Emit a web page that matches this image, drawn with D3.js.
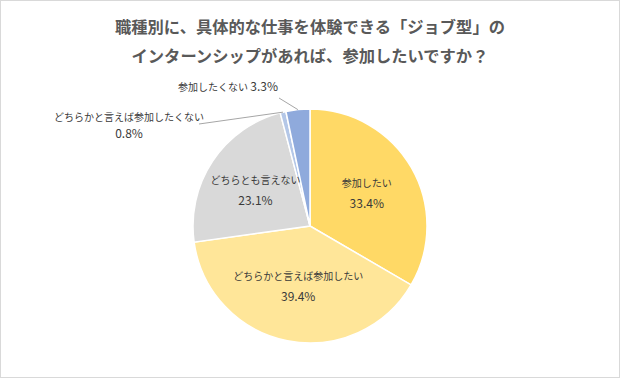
<!DOCTYPE html>
<html><head><meta charset="utf-8">
<script src="https://cdn.jsdelivr.net/npm/d3@7"></script>
<style>
html,body{margin:0;padding:0;background:#fff;}
svg{display:block;font-family:"Noto Sans CJK JP","Noto Sans",sans-serif;}
</style></head>
<body>
<svg id="c" width="620" height="378"></svg>
<script>
const titleLines = ["職種別に、具体的な仕事を体験できる「ジョブ型」の", "インターンシップがあれば、参加したいですか？"];
const categories = ["参加したい", "どちらかと言えば参加したい", "どちらとも言えない", "どちらかと言えば参加したくない", "参加したくない"];
const values = [33.4, 39.4, 23.1, 0.8, 3.3];
const colors = ["#FFD966", "#FFE699", "#D9D9D9", "#B4C7E7", "#8FAADC"];

const W = 620, H = 378;
const cx = 310, cy = 226, R = 117;
const svg = d3.select("#c");

svg.append("rect").attr("x",0.5).attr("y",0.5).attr("width",W-1).attr("height",H-1)
  .attr("fill","#fff").attr("stroke","#d9d9d9").attr("stroke-width",1);

svg.append("g").selectAll("text").data(titleLines).join("text")
  .attr("x", cx).attr("y",(d,i)=>33+i*29)
  .attr("text-anchor","middle").attr("font-size","16.3px").attr("font-weight","bold")
  .attr("fill","#595959").text(d=>d);

const data = categories.map((c,i)=>({cat:c, v:values[i], col:colors[i]}));
const pie = d3.pie().value(d=>d.v).sort(null);
const arcs = pie(data);
const arc = d3.arc().innerRadius(0).outerRadius(R);
const g = svg.append("g").attr("transform",`translate(${cx},${cy})`);
g.selectAll("path").data(arcs).join("path")
  .attr("d",arc).attr("fill",d=>d.data.col).attr("stroke","#fff").attr("stroke-width",1.5);

const lab = "#3a3a3a";
const fs = "10px";
const nfs = "12px";
// inner labels (first three slices)
const inR = [0.56, 0.52, 0.56];
arcs.slice(0,3).forEach((a,i)=>{
  const m = (a.startAngle+a.endAngle)/2;
  const r = R*inR[i];
  const x = r*Math.sin(m), y = -r*Math.cos(m);
  const t = g.append("text").attr("text-anchor","middle").attr("fill",lab).attr("font-size",fs);
  t.append("tspan").attr("x",x).attr("y",y-6).text(a.data.cat);
  t.append("tspan").attr("x",x).attr("y",y+15).attr("font-size",nfs).text(a.data.v.toFixed(1)+"%");
});

// outer labels
function edge(a){const m=(a.startAngle+a.endAngle)/2;return [R*Math.sin(m), -R*Math.cos(m)];}
// 0.8%
{
  const a = arcs[3]; const [ex,ey] = edge(a);
  g.append("line").attr("x1",199-cx).attr("y1",124-cy).attr("x2",ex).attr("y2",ey)
    .attr("stroke","#a6a6a6").attr("stroke-width",1);
  const t = g.append("text").attr("text-anchor","middle").attr("fill",lab).attr("font-size",fs);
  t.append("tspan").attr("x",129-cx).attr("y",121-cy).text(a.data.cat);
  t.append("tspan").attr("x",129-cx).attr("y",138-cy).attr("font-size",nfs).text(a.data.v.toFixed(1)+"%");
}
// 3.3%
{
  const a = arcs[4]; const [ex,ey] = edge(a);
  g.append("line").attr("x1",279-cx).attr("y1",98-cy).attr("x2",ex).attr("y2",ey)
    .attr("stroke","#a6a6a6").attr("stroke-width",1);
  const t = g.append("text").attr("text-anchor","middle").attr("fill",lab).attr("font-size",fs)
    .attr("x",228-cx).attr("y",91-cy);
  t.append("tspan").text(a.data.cat+" ");
  t.append("tspan").attr("font-size",nfs).text(a.data.v.toFixed(1)+"%");
}
</script>
</body></html>
